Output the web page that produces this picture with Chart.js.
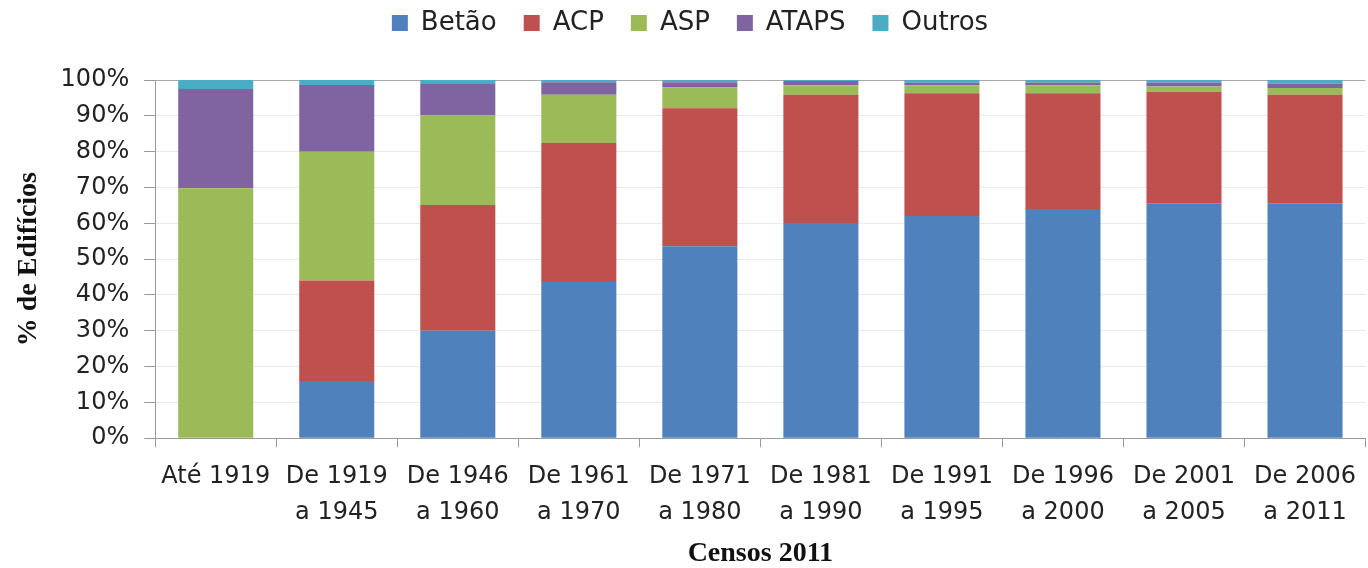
<!DOCTYPE html>
<html>
<head>
<meta charset="utf-8">
<script src="https://cdn.jsdelivr.net/npm/chart.js@4"></script>
<style>
  body { margin: 0; background: #fff; }
</style>
</head>
<body>
<canvas id="myChart" width="1368" height="568"></canvas>
<script>
const periodos = ['Até 1919', ['De 1919', 'a 1945'], ['De 1946', 'a 1960'], ['De 1961', 'a 1970'], ['De 1971', 'a 1980'],
    ['De 1981', 'a 1990'], ['De 1991', 'a 1995'], ['De 1996', 'a 2000'], ['De 2001', 'a 2005'], ['De 2006', 'a 2011']];

const betao  = [0, 16, 30, 43.6, 53.6, 60.1, 62, 64, 65.6, 65.6];
const acp    = [0, 28, 35.1, 38.8, 38.5, 35.8, 34.3, 32.3, 31.1, 30.3];
const asp    = [69.8, 36, 25, 13.5, 5.8, 2.6, 2.2, 2.2, 1.5, 1.9];
const ataps  = [27.7, 18.6, 9, 3.5, 1.5, 1.2, 0.7, 0.8, 1.1, 1.2];
const outros = [2.5, 1.4, 0.9, 0.6, 0.6, 0.3, 0.8, 0.7, 0.7, 1.0];

const yTicks = [0, 10, 20, 30, 40, 50, 60, 70, 80, 90, 100];

// extra space under the legend
const legendGap = {
    id: 'legendGap',
    beforeInit(chart) {
        const fit = chart.legend.fit;
        chart.legend.fit = function () {
            fit.bind(chart.legend)();
            this.height += 34;
        };
    }
};

const ctx = document.getElementById("myChart").getContext("2d");
let myChart = new Chart(ctx, {
    type: 'bar',
    data: {
        labels: periodos,
        datasets: [
            { label: 'Betão',  data: betao,  backgroundColor: '#4F81BD' },
            { label: 'ACP',    data: acp,    backgroundColor: '#C0504D' },
            { label: 'ASP',    data: asp,    backgroundColor: '#9BBB59' },
            { label: 'ATAPS',  data: ataps,  backgroundColor: '#8064A2' },
            { label: 'Outros', data: outros, backgroundColor: '#4BACC6' }
        ]
    },
    plugins: [legendGap],
    options: {
        responsive: false,
        animation: false,
        barPercentage: 0.62,
        categoryPercentage: 1,
        layout: { padding: { left: 12, right: 0, top: -17, bottom: -6 } },
        plugins: {
            legend: {
                position: 'top',
                labels: {
                    font: { family: 'DejaVu Sans', size: 26 },
                    color: '#222',
                    boxWidth: 16,
                    boxHeight: 16,
                    padding: 27
                }
            },
            tooltip: { enabled: false }
        },
        scales: {
            x: {
                stacked: true,
                grid: { drawOnChartArea: false, offset: true, tickLength: 9, tickColor: '#999' },
                border: { color: '#999' },
                ticks: {
                    font: { family: 'DejaVu Sans', size: 24, lineHeight: 1.5 },
                    color: '#222',
                    maxRotation: 0,
                    autoSkip: false,
                    padding: 12
                },
                title: {
                    display: true,
                    text: 'Censos 2011',
                    font: { family: 'Liberation Serif', size: 28, weight: 'bold', lineHeight: 1.1 },
                    color: '#111',
                    padding: { top: -5, bottom: 5 }
                }
            },
            y: {
                stacked: true,
                min: 0,
                max: 100,
                afterBuildTicks: axis => { axis.ticks = yTicks.map(v => ({ value: v })); },
                grid: {
                    color: c => c.tick && c.tick.value === 100 ? '#aaa' : '#ebebe4',
                    tickColor: '#999',
                    tickLength: 11
                },
                border: { color: '#999' },
                ticks: {
                    font: { family: 'DejaVu Sans', size: 24 },
                    color: '#222',
                    padding: 15,
                    callback: v => v + '%'
                },
                title: {
                    display: true,
                    text: '% de Edifícios',
                    font: { family: 'Liberation Serif', size: 28, weight: 'bold' },
                    color: '#111',
                    padding: { top: 0, bottom: 0 }
                }
            }
        }
    }
});
</script>
</body>
</html>
